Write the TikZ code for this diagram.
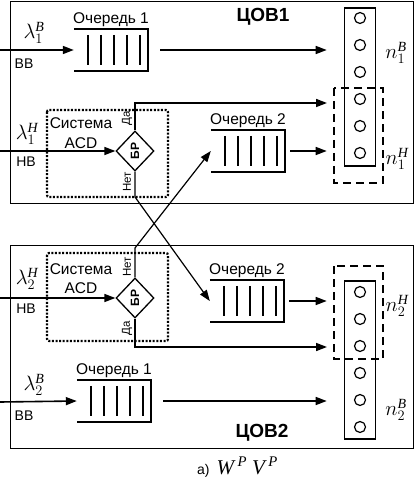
\documentclass[tikz,border=0pt]{standalone}
\usepackage{amsmath}
\usepackage{graphicx}
\usepackage{fontspec}
\setmainfont{Liberation Sans}
\newfontfamily\tms{Liberation Serif}
\usetikzlibrary{arrows.meta, shapes.geometric, calc, positioning}

\newcommand{\ital}[1]{\text{\tms\itshape #1}}

\begin{document}
\begin{tikzpicture}[x=1pt, y=-1pt, >={Triangle[length=11pt,width=8pt]},
    queue/.style={minimum width=74pt, minimum height=42pt, inner sep=0pt},
    brnode/.style={diamond, draw, line width=1.3pt, minimum width=38pt, minimum height=40pt, inner sep=0pt, font=\bfseries\fontsize{12}{12}\selectfont},
    column/.style={draw, line width=1.6pt, minimum width=31pt, minimum height=158pt, inner sep=0pt},
    arr/.style={->, line width=1.6pt},
    diag/.style={->, line width=1.2pt},
    dashbox/.style={line width=2.4pt, dash pattern=on 8pt off 5pt},
    dotbox/.style={line width=2.2pt, dash pattern=on 2pt off 1.6pt, rounded corners=2pt},
    lbl/.style={font=\fontsize{14}{15}\selectfont, inner sep=0pt},
    qlbl/.style={font=\fontsize{15.5}{16}\selectfont, inner sep=0pt},
    vlbl/.style={font=\fontsize{11.5}{12}\selectfont, rotate=90, inner sep=0pt},
    mlbl/.style={font=\fontsize{20}{21}\selectfont, inner sep=0pt}]
    \useasboundingbox (0,0) rectangle (415,478);

    % ЦОВ1 и ЦОВ2
    \draw[line width=0.8pt] (10,1) rectangle (413,203);
    \draw[line width=0.8pt] (10,245) rectangle (413,448);
    \node[font=\bfseries\fontsize{19}{20}\selectfont] (cov1) at (263,17) {ЦОВ1};
    \node[font=\bfseries\fontsize{19}{20}\selectfont] (cov2) at (262,433) {ЦОВ2};

    % Системы ACD
    \draw[dotbox] (47,110) rectangle (168,197);
    \draw[dotbox] (47,253) rectangle (168,341);
    \node[qlbl] (sys1) at (81,123) {Система};
    \node[qlbl] (acd1) at (81,143) {ACD};
    \node[qlbl] (sys2) at (81,269) {Система};
    \node[qlbl] (acd2) at (81,288) {ACD};

    % Очереди
    \node[queue] (q11) at (111,50) {};
    \node[queue] (q21) at (248,151) {};
    \node[queue] (q22) at (247,301) {};
    \node[queue] (q12) at (114,401) {};
    \foreach \q in {q11, q21, q22, q12} {
        \draw[line width=1.6pt] (\q.north west) -- (\q.north east) -- (\q.south east) -- (\q.south west);
        \foreach \dx in {-23, -10, 3, 16, 29}
            \draw[line width=1.6pt] ($(\q.north)+(\dx,6)$) -- ($(\q.south)+(\dx,-6)$);
    }
    \node[qlbl, above=1.5pt of q11.north] (ql11) {Очередь 1};
    \node[qlbl, above=1.5pt of q21.north] (ql21) {Очередь 2};
    \node[qlbl, above=1.5pt of q22.north] (ql22) {Очередь 2};
    \node[qlbl, above=1.5pt of q12.north] (ql12) {Очередь 1};

    % БР
    \node[brnode] (d1) at (135,151) {\rotatebox{90}{БР}};
    \node[brnode] (d2) at (135,298) {\rotatebox{90}{БР}};
    \node[vlbl] (da1) at (127,118) {Да};
    \node[vlbl] (net1) at (127,182) {Нет};
    \node[vlbl] (net2) at (127,267) {Нет};
    \node[vlbl] (da2) at (127,328) {Да};

    % Каналы
    \node[column] (c1) at (360,87) {};
    \node[column] (c2) at (360,360) {};
    \foreach \k in {0,...,5} {
        \draw[line width=1.2pt] (360,18+27*\k) circle (5.5pt);
        \draw[line width=1.2pt] (360,292+27*\k) circle (5.5pt);
    }
    \draw[dashbox] (334,88) rectangle (383,183);
    \draw[dashbox] (334,266) rectangle (383,359);
    \node[mlbl] (n1b) at (396,53) {$n_1^{\ital{В}}$};
    \node[mlbl] (n1h) at (397,159) {$n_1^{\ital{Н}}$};
    \node[mlbl] (n2h) at (397,306) {$n_2^{\ital{Н}}$};
    \node[mlbl] (n2b) at (396,410) {$n_2^{\ital{В}}$};

    % Входящие потоки
    \coordinate (in11) at (0,50);
    \coordinate (in21) at (0,151);
    \coordinate (in22) at (0,298);
    \coordinate (in12) at (0,402);
    \draw[arr] (in11) -- (q11.west);
    \draw[arr] (in21) -- (d1.west);
    \draw[arr] (in22) -- (d2.west);
    \draw[arr] (in12) -- (q12.west);
    \node[mlbl] (l1b) at (34,33) {$\lambda_1^{\ital{В}}$};
    \node[lbl] (vv1) at (24,64) {ВВ};
    \node[mlbl] (l1h) at (27,134) {$\lambda_1^{\ital{Н}}$};
    \node[lbl] (nv1) at (26,162) {НВ};
    \node[mlbl] (l2h) at (27,279) {$\lambda_2^{\ital{Н}}$};
    \node[lbl] (nv2) at (26,309) {НВ};
    \node[mlbl] (l2b) at (34,385) {$\lambda_2^{\ital{В}}$};
    \node[lbl] (vv2) at (24,416) {ВВ};

    % К каналам
    \coordinate (t1) at (327,103);
    \coordinate (t2) at (327,347);
    \draw[arr, shorten <=12pt, shorten >=17pt] (q11.east) -- (c1.west |- q11.east);
    \draw[arr, shorten <=5pt, shorten >=17pt] (q21.east) -- (c1.west |- q21.east);
    \draw[arr, shorten <=5pt, shorten >=17pt] (q22.east) -- (c2.west |- q22.east);
    \draw[arr, shorten <=12pt, shorten >=17pt] (q12.east) -- (c2.west |- q12.east);
    \draw[arr] (d1.north) |- (t1);
    \draw[arr] (d2.south) |- (t2);

    % Перекрёстные потоки
    \coordinate (k1) at (135,197);
    \coordinate (k2) at (135,248);
    \draw[diag] (d1.south) -- (k1) -- (q22.west);
    \draw[diag] (d2.north) -- (k2) -- (q21.west);

    \node[anchor=west, inner sep=0pt] (cap) at (197,467) {\fontsize{14}{15}\selectfont а)\enspace\fontsize{21}{22}\selectfont {\tms\itshape W}\,$^{\ital{Р}}$\hspace{5pt}{\tms\itshape V}\,$^{\ital{Р}}$};
\end{tikzpicture}
\end{document}
